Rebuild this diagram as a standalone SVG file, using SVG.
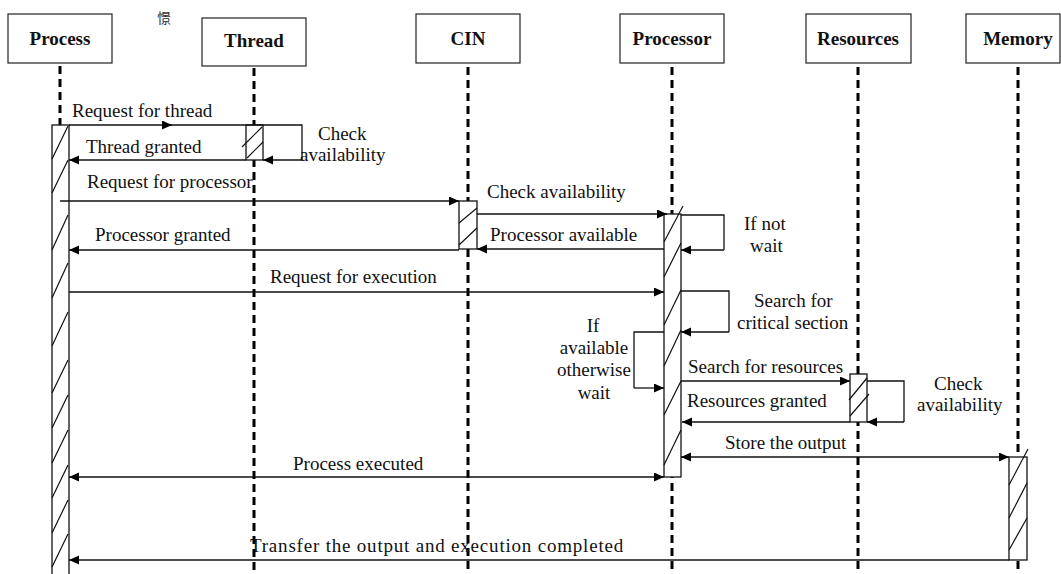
<svg xmlns="http://www.w3.org/2000/svg" width="1061" height="574" viewBox="0 0 1061 574">
  <style>
    .head { fill: #fff; stroke: #222; stroke-width: 1.2; }
    .title { font-family: "Liberation Serif", "Times New Roman", serif; font-size: 19px; font-weight: bold; fill: #111; text-anchor: middle; }
    .life { stroke: #000; stroke-width: 3; stroke-dasharray: 8 5; fill: none; }
    .act { fill: #fff; stroke: #111; stroke-width: 1.3; }
    .hatch { stroke: #111; stroke-width: 1.2; fill: none; }
    .msg { stroke: #111; stroke-width: 1.3; fill: none; }
    .lbl { font-family: "Liberation Serif", "Times New Roman", serif; font-size: 19px; fill: #111; }
    .mid { text-anchor: middle; }
  </style>
  <defs>
    <marker id="arrow" markerUnits="userSpaceOnUse" markerWidth="11" markerHeight="10" refX="10" refY="4.5" orient="auto-start-reverse">
      <path d="M0,0 L10,4.5 L0,9 z" fill="#000"/>
    </marker>
  </defs>

  <rect width="1061" height="574" fill="#fff"/>

  <!-- stray glyph near the top -->
  <text x="157" y="23" font-family="'Noto Sans CJK SC', sans-serif" font-size="14" fill="#333">憬</text>

  <!-- Process -->
  <g id="process">
    <line class="life" x1="60" y1="66" x2="60" y2="125"/>
    <rect class="head" x="8" y="14" width="104" height="49"/>
    <text class="title" x="60" y="45">Process</text>
    <rect class="act" x="52" y="125" width="17" height="460"/>
    <path class="hatch" d="M52,159 L68,126 M52,193 L68,160 M52,250 L68,215 M52,298 L68,263 M52,346 L68,312 M52,393 L68,360 M52,428 L68,395 M52,463 L68,430 M52,498 L68,465 M52,533 L68,500 M52,567 L68,534"/>
  </g>

  <!-- Thread -->
  <g id="thread">
    <rect class="head" x="202" y="18" width="104" height="48"/>
    <text class="title" x="254" y="47">Thread</text>
    <line class="life" x1="254" y1="68" x2="254" y2="574"/>
    <rect class="act" x="246" y="125" width="17" height="35"/>
    <path class="hatch" d="M242,147 L262,127 M247,158 L263,142"/>
  </g>

  <!-- CIN -->
  <g id="cin">
    <rect class="head" x="416" y="14" width="104" height="49"/>
    <text class="title" x="468" y="45">CIN</text>
    <line class="life" x1="468" y1="67" x2="468" y2="574"/>
    <rect class="act" x="459" y="201" width="18" height="48"/>
    <path class="hatch" d="M459,223 L477,208 M459,245 L477,228"/>
  </g>

  <!-- Processor -->
  <g id="processor">
    <rect class="head" x="620" y="14" width="104" height="49"/>
    <text class="title" x="672" y="45">Processor</text>
    <line class="life" x1="672" y1="67" x2="672" y2="574"/>
    <rect class="act" x="664" y="214" width="17" height="263"/>
    <path class="hatch" d="M664,242 L683,206 M664,277 L681,243 M664,325 L681,290 M664,366 L681,330 M664,415 L681,381 M664,465 L681,430"/>
  </g>

  <!-- Resources -->
  <g id="resources">
    <rect class="head" x="806" y="14" width="105" height="49"/>
    <text class="title" x="858" y="45">Resources</text>
    <line class="life" x1="858" y1="67" x2="858" y2="574"/>
    <rect class="act" x="850" y="374" width="17" height="48"/>
    <path class="hatch" d="M849,400 L867,378 M850,416 L869,394"/>
  </g>

  <!-- Memory -->
  <g id="memory">
    <rect class="head" x="966" y="14" width="94" height="49"/>
    <text class="title" x="1018" y="45">Memory</text>
    <line class="life" x1="1018" y1="67" x2="1018" y2="574"/>
    <rect class="act" x="1009" y="457" width="18" height="103"/>
    <path class="hatch" d="M1009,485 L1028,449 M1009,518 L1027,483 M1009,550 L1027,518"/>
  </g>

  <!-- Messages and self-calls -->
  <g id="connectors">
    <!-- Request for thread (arrowhead mid-line), joined to the thread self-check loop -->
    <line class="msg" x1="69" y1="125" x2="172" y2="125" marker-end="url(#arrow)"/>
    <polyline class="msg" points="170,125 302,125 302,160"/>
    <line class="msg" x1="302" y1="160" x2="263" y2="160" marker-end="url(#arrow)"/>
    <text class="lbl" x="72" y="117">Request for thread</text>
    <text class="lbl" x="318" y="140">Check</text>
    <text class="lbl" x="300" y="161">availability</text>

    <line class="msg" x1="246" y1="160" x2="69" y2="160" marker-end="url(#arrow)"/>
    <text class="lbl" x="86" y="153">Thread granted</text>

    <line class="msg" x1="60" y1="201" x2="459" y2="201" marker-end="url(#arrow)"/>
    <text class="lbl" x="87" y="188">Request for processor</text>

    <line class="msg" x1="477" y1="214" x2="667" y2="214" marker-end="url(#arrow)"/>
    <text class="lbl" x="487" y="198">Check availability</text>

    <polyline class="msg" points="681,215 724,215 724,250"/>
    <line class="msg" x1="724" y1="250" x2="681" y2="250" marker-end="url(#arrow)"/>
    <text class="lbl" x="744" y="230">If not</text>
    <text class="lbl" x="750" y="252">wait</text>

    <line class="msg" x1="664" y1="249" x2="477" y2="249" marker-end="url(#arrow)"/>
    <text class="lbl" x="490" y="241">Processor available</text>

    <line class="msg" x1="459" y1="250" x2="69" y2="250" marker-end="url(#arrow)"/>
    <text class="lbl" x="95" y="241">Processor granted</text>

    <line class="msg" x1="69" y1="292" x2="664" y2="292" marker-end="url(#arrow)"/>
    <text class="lbl" x="270" y="283">Request for execution</text>

    <polyline class="msg" points="681,291 729,291 729,332"/>
    <line class="msg" x1="729" y1="332" x2="681" y2="332" marker-end="url(#arrow)"/>
    <text class="lbl" x="754" y="307">Search for</text>
    <text class="lbl" x="737" y="329">critical section</text>

    <polyline class="msg" points="664,332 634,332 634,388"/>
    <line class="msg" x1="634" y1="388" x2="664" y2="388" marker-end="url(#arrow)"/>
    <text class="lbl mid" x="593" y="332">If</text>
    <text class="lbl mid" x="594" y="354">available</text>
    <text class="lbl mid" x="594" y="376">otherwise</text>
    <text class="lbl mid" x="594" y="399">wait</text>

    <line class="msg" x1="681" y1="381" x2="850" y2="381" marker-end="url(#arrow)"/>
    <text class="lbl" x="688" y="373">Search for resources</text>

    <polyline class="msg" points="867,381 904,381 904,422"/>
    <line class="msg" x1="904" y1="422" x2="867" y2="422" marker-end="url(#arrow)"/>
    <text class="lbl" x="934" y="390">Check</text>
    <text class="lbl" x="917" y="411">availability</text>

    <line class="msg" x1="850" y1="422" x2="682" y2="422" marker-end="url(#arrow)"/>
    <text class="lbl" x="687" y="407">Resources granted</text>

    <line class="msg" x1="681" y1="457" x2="1009" y2="457" marker-start="url(#arrow)" marker-end="url(#arrow)"/>
    <text class="lbl" x="725" y="449">Store the output</text>

    <line class="msg" x1="69" y1="477" x2="664" y2="477" marker-start="url(#arrow)" marker-end="url(#arrow)"/>
    <text class="lbl" x="293" y="470">Process executed</text>

    <line class="msg" x1="1009" y1="560" x2="69" y2="560" marker-end="url(#arrow)"/>
    <text class="lbl" x="250" y="552" letter-spacing="0.8">Transfer the output and execution completed</text>
  </g>
</svg>
